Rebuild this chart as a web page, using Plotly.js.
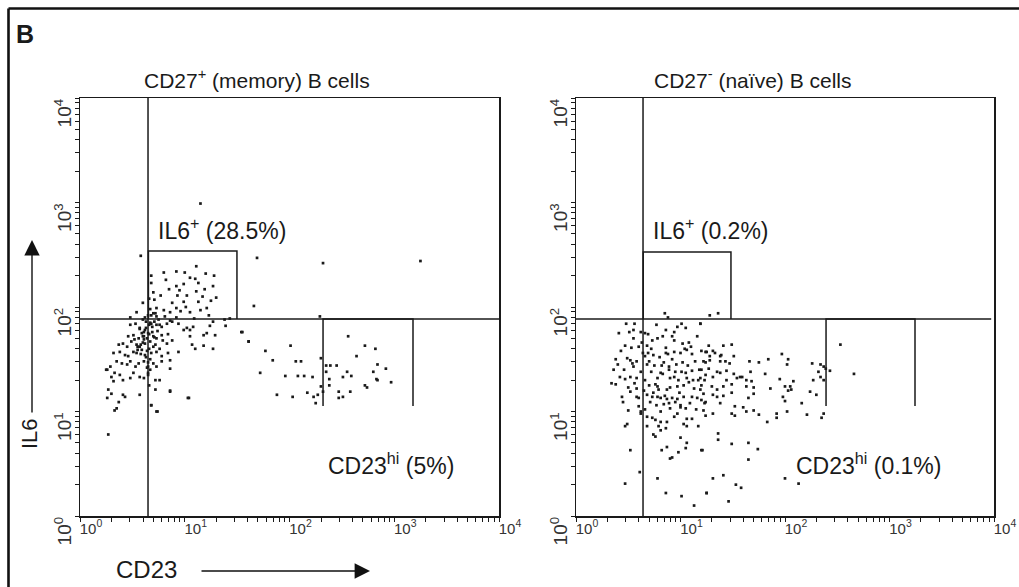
<!DOCTYPE html>
<html>
<head>
<meta charset="utf-8">
<script src="https://cdn.plot.ly/plotly-3.0.1.min.js"></script>
<style>html,body{margin:0;padding:0;background:#fff;}#chart{width:1019px;height:587px;}</style>
</head>
<body>
<div id="chart"></div>
<script>
// ---- Data (in decades: log10 of fluorescence) ----
// CD27+ (memory) B cells : events
const memLogCD23 = [
0.58,1.69,1.15,2.32,3.25,1.11,0.80,0.92,1.00,1.20,1.28,1.10,0.68,0.68,0.92,0.99,1.13,1.27,0.85,0.95,1.11,0.77,0.93,1.02,1.30,0.71,0.88,0.99,1.13,0.60,1.66,0.73,0.80,0.92,1.01,1.21,0.54,0.72,0.86,0.96,1.05,1.15,0.48,0.73,0.81,0.92,1.23,1.43,1.38,0.65,0.66,0.86,2.29,1.19,1.25,0.82,1.05,0.70,1.17,0.67,1.09,
0.48,0.53,0.57,0.61,0.68,0.73,0.78,0.83,0.88,0.94,0.99,1.02,1.05,1.08,1.24,1.27,1.39,
0.46,0.51,0.56,0.61,0.65,0.70,0.73,0.78,0.84,0.88,1.05,1.18,1.21,1.29,1.54,1.61,
0.37,0.41,0.45,0.49,0.54,0.57,0.62,0.67,0.72,0.76,0.83,0.94,1.07,1.10,1.18,1.27,
0.32,0.38,0.43,0.46,0.51,0.54,0.59,0.62,0.68,0.73,0.78,0.84,0.86,
0.26,0.29,0.35,0.40,0.45,0.48,0.53,0.56,0.61,0.65,0.70,0.73,0.78,0.86,
0.30,0.32,0.33,0.38,0.41,0.48,0.51,0.57,0.61,0.65,0.67,0.72,0.76,
0.27,0.26,0.30,0.41,0.43,0.57,0.72,0.86,1.04,
0.37,0.33,0.35,0.68,0.74,0.27,0.25,0.86,1.03,0.73,0.68,
0.62,0.64,0.66,0.63,0.60,0.69,0.67,0.64,0.66,0.65,0.59,0.55,0.70,0.74,0.52,0.58,0.63,0.66,0.71,0.60,0.68,0.75,
1.55,1.61,2.01,2.56,2.72,2.82,2.64,2.06,2.11,2.30,2.35,2.39,2.45,2.84,2.92,1.72,1.96,2.08,2.14,2.22,2.35,2.55,2.59,2.51,2.80,2.83,2.84,2.97,2.38,2.30,2.38,2.72,2.74,1.88,2.03,2.17,2.23,2.27,2.32,2.25,2.47,2.58,2.47,2.51,1.77,1.84,
0.63,0.66,0.61,0.69,0.64,0.58,0.71,0.67,0.62,0.65,0.57,0.70,0.76,0.79,0.55,0.60
];
const memLogIL6 = [
2.49,2.47,2.99,2.42,2.44,2.39,2.33,2.34,2.33,2.32,2.30,2.27,2.30,2.23,2.20,2.22,2.23,2.20,2.17,2.16,2.15,2.11,2.11,2.11,2.09,2.07,2.04,2.05,2.05,2.04,2.01,1.99,1.97,1.99,2.00,1.99,1.95,1.94,1.95,1.96,1.95,1.97,1.90,1.91,1.91,1.90,1.92,1.89,1.88,1.92,2.08,1.87,1.91,2.17,2.06,2.26,2.28,2.14,2.10,1.98,1.89,
1.83,1.84,1.80,1.76,1.84,1.83,1.81,1.84,1.86,1.84,1.78,1.80,1.78,1.81,1.82,1.86,1.82,
1.72,1.73,1.70,1.72,1.75,1.72,1.70,1.73,1.74,1.68,1.72,1.73,1.75,1.73,1.76,1.67,
1.64,1.65,1.62,1.67,1.64,1.62,1.65,1.67,1.64,1.60,1.65,1.57,1.64,1.60,1.63,1.60,
1.56,1.57,1.54,1.53,1.57,1.56,1.59,1.54,1.56,1.57,1.53,1.56,1.49,
1.40,1.43,1.48,1.46,1.45,1.48,1.43,1.46,1.48,1.43,1.46,1.43,1.48,1.41,
1.33,1.29,1.37,1.35,1.30,1.32,1.37,1.33,1.32,1.37,1.40,1.30,1.30,
1.21,1.13,1.17,1.16,1.14,1.16,1.21,1.19,1.13,
1.09,1.01,1.03,1.06,1.00,0.78,1.40,1.20,1.13,1.00,1.06,
1.78,1.70,1.60,1.52,1.66,1.76,1.50,1.42,1.25,1.35,1.75,1.62,1.62,1.77,1.69,1.55,1.86,1.83,1.86,1.88,1.92,1.88,
1.76,1.67,1.63,1.72,1.63,1.60,1.53,1.48,1.48,1.51,1.44,1.44,1.44,1.45,1.41,1.37,1.34,1.34,1.34,1.33,1.38,1.38,1.34,1.33,1.38,1.31,1.30,1.28,1.31,1.24,1.25,1.25,1.23,1.16,1.14,1.18,1.14,1.16,1.19,1.08,1.19,1.19,1.13,1.14,1.58,1.49,
1.80,1.74,1.69,1.81,1.58,1.64,1.71,1.85,1.90,1.47,1.79,1.94,1.83,1.68,1.59,1.72
];

// CD27- (naive) B cells : events
const naiLogCD23 = [
0.85,0.88,0.48,0.56,0.77,0.97,1.01,1.05,1.19,0.41,0.51,0.62,0.66,0.69,0.86,0.94,0.78,0.92,1.16,0.94,0.47,0.53,0.63,0.68,0.72,0.86,1.02,1.08,0.94,
0.38,0.49,0.52,0.54,0.58,0.69,0.66,0.74,0.86,1.00,1.04,1.06,1.11,1.24,0.46,0.55,0.68,0.82,0.89,0.96,1.24,
0.34,0.38,0.42,0.47,0.52,0.58,0.66,0.78,0.81,0.83,0.89,0.94,1.01,1.05,1.06,1.11,1.17,1.24,
0.50,0.52,0.58,0.76,0.78,0.79,0.87,0.90,0.97,1.03,1.08,1.13,1.19,
0.44,0.58,0.60,0.68,0.73,0.78,0.81,0.87,0.92,0.97,1.03,1.11,1.16,0.45,0.71,0.84,0.89,0.95,1.00,1.24,
0.50,0.62,0.81,0.90,1.05,1.00,0.62,0.68,0.73,0.76,0.81,0.87,0.97,1.06,1.11,1.24,
0.47,0.49,0.68,0.79,0.81,0.86,1.06,1.17,0.74,0.76,1.00,0.52,0.82,0.87,0.98,1.05,1.06,1.21,0.90,0.92,0.61,0.47,0.78,0.86,1.01,1.13,1.25,
0.55,0.60,0.64,0.70,0.72,0.75,0.80,0.84,0.88,0.92,0.95,0.98,1.02,1.07,1.12,1.14,1.18,1.20,0.56,0.62,0.65,0.70,0.74,0.77,0.85,0.90,0.99,1.09,1.15,0.43,0.40,0.36,0.60,0.66,0.94,1.03,0.55,0.73,0.83,1.10,
1.28,1.36,1.19,1.27,1.41,1.49,1.25,1.31,1.33,1.28,1.38,1.39,1.51,1.22,1.28,1.38,1.43,1.47,1.66,1.75,1.84,1.97,2.03,2.02,1.20,1.27,1.35,1.38,1.44,1.51,1.59,1.67,1.81,2.26,2.34,2.37,2.39,2.43,2.32,2.53,2.66,
1.19,1.23,1.31,1.44,1.54,1.57,1.63,1.68,1.95,2.08,2.34,2.37,2.27,1.20,1.30,1.35,1.41,1.49,1.63,1.70,1.86,2.00,2.05,2.03,2.06,2.24,2.30,
1.22,1.31,1.35,1.41,1.49,1.65,1.70,1.98,2.00,1.20,1.23,1.38,1.52,1.60,1.70,1.22,1.31,1.49,1.52,1.63,1.75,1.92,2.02,2.16,2.21,2.37,2.35,1.83,1.92,
1.36,1.36,1.49,1.65,1.74,1.20,1.65,1.31,1.41,1.53,1.58,2.00,2.13,1.25,1.46
];
const naiLogIL6 = [
1.94,1.90,1.84,1.84,1.83,1.81,1.84,1.80,1.84,1.75,1.76,1.76,1.75,1.74,1.78,1.76,1.70,1.72,1.72,1.68,1.63,1.61,1.66,1.63,1.60,1.61,1.65,1.66,1.57,
1.50,1.51,1.49,1.46,1.48,1.56,1.53,1.54,1.56,1.56,1.60,1.59,1.55,1.57,1.40,1.43,1.45,1.44,1.43,1.45,1.47,
1.27,1.26,1.33,1.31,1.33,1.32,1.30,1.32,1.37,1.36,1.40,1.33,1.38,1.37,1.32,1.39,1.30,1.35,
1.23,1.19,1.22,1.26,1.24,1.21,1.21,1.23,1.24,1.25,1.28,1.22,1.21,
1.14,1.14,1.13,1.16,1.14,1.14,1.13,1.12,1.13,1.12,1.14,1.14,1.13,1.09,1.09,1.07,1.08,1.09,1.06,1.09,
1.01,1.00,1.00,1.03,1.03,1.04,0.98,0.95,0.94,0.92,0.90,0.90,0.98,0.93,0.93,0.96,
0.86,0.88,0.86,0.86,0.82,0.84,0.86,0.86,0.78,0.76,0.75,0.63,0.63,0.66,0.61,0.65,0.70,0.63,0.55,0.56,0.42,0.31,0.36,0.22,0.19,0.10,0.22,
1.70,1.62,1.56,1.48,1.38,1.44,1.52,1.47,1.55,1.50,1.38,1.30,1.47,1.44,1.30,1.48,1.40,1.58,1.27,1.38,1.20,1.25,1.18,1.06,1.15,1.32,1.18,1.08,1.02,1.58,1.45,1.40,1.05,1.02,0.95,0.88,1.78,1.68,1.72,1.62,
1.92,1.94,1.84,1.63,1.63,1.64,1.57,1.58,1.56,1.53,1.53,1.54,1.53,1.48,1.49,1.48,1.48,1.46,1.48,1.47,1.50,1.55,1.50,1.45,1.40,1.41,1.38,1.37,1.39,1.36,1.33,1.38,1.36,1.46,1.45,1.43,1.41,1.39,1.38,1.64,1.36,
1.32,1.30,1.33,1.30,1.32,1.33,1.30,1.29,1.31,1.29,1.33,1.30,1.30,1.25,1.24,1.21,1.24,1.26,1.24,1.23,1.22,1.24,1.24,1.20,1.21,1.19,1.16,
1.17,1.16,1.14,1.15,1.18,1.13,1.17,1.14,1.10,1.11,1.08,1.08,1.05,1.04,1.01,1.01,0.98,0.98,0.96,1.00,0.97,0.98,1.00,1.08,0.97,0.98,0.94,0.90,0.94,
0.79,0.73,0.69,0.70,0.64,0.63,0.54,0.36,0.39,0.30,0.27,0.36,0.31,0.22,0.14
];

// Gates (data units)
const memGateCD23 = 4.46, memGateIL6 = 76.7;
const memIL6BoxX = [4.5, 31.5], memIL6BoxY = [76.7, 343];
const memCD23BoxX = [209, 1510], memCD23BoxY = [11.3, 76.7];
const naiGateCD23 = 4.38, naiGateIL6 = 76.7, naiGateEnd = 9400;
const naiIL6BoxX = [4.4, 30.4], naiIL6BoxY = [76.7, 336];
const naiCD23BoxX = [247, 1754], naiCD23BoxY = [11.3, 76.7];

// Axis ticks: decades labelled, 2..9 unlabelled
const decadeVals = [1, 10, 100, 1000, 10000];
const decadeText = ['10<sup>0</sup>','10<sup>1</sup>','10<sup>2</sup>','10<sup>3</sup>','10<sup>4</sup>'];

// Texts
const titleMem = 'CD27<sup>+</sup> (memory) B cells';
const titleNai = 'CD27<sup>-</sup> (naïve) B cells';
const gateLabels = ['IL6<sup>+</sup> (28.5%)', 'CD23<sup>hi</sup> (5%)', 'IL6<sup>+</sup> (0.2%)', 'CD23<sup>hi</sup> (0.1%)'];

// ---- Build ----
const pow10 = v => Math.pow(10, v);
const tickVals = [], tickText = [];
decadeVals.forEach((v, i) => {
  tickVals.push(v); tickText.push(decadeText[i]);
  if (i < decadeVals.length - 1) for (let k = 2; k <= 9; k++) { tickVals.push(k * v); tickText.push(''); }
});

const ink = '#1a1a1a';
const dots = (xs, ys, xa, ya) => ({
  type: 'scatter', mode: 'markers', x: xs.map(pow10), y: ys.map(pow10), xaxis: xa, yaxis: ya,
  marker: {symbol: 'square', size: 2.7, color: ink, line: {width: 0}}, hoverinfo: 'skip'
});
const line = (xs, ys, xa, ya) => ({
  type: 'scatter', mode: 'lines', x: xs, y: ys, xaxis: xa, yaxis: ya,
  line: {color: ink, width: 1.5}, hoverinfo: 'skip'
});
const box = (bx, by, xa, ya) => line([bx[0], bx[0], bx[1], bx[1]], [by[0], by[1], by[1], by[0]], xa, ya);

const traces = [
  dots(memLogCD23, memLogIL6, 'x', 'y'),
  line([memGateCD23, memGateCD23], [1, 10000], 'x', 'y'),
  line([1, 10000], [memGateIL6, memGateIL6], 'x', 'y'),
  box(memIL6BoxX, memIL6BoxY, 'x', 'y'),
  box(memCD23BoxX, memCD23BoxY, 'x', 'y'),
  dots(naiLogCD23, naiLogIL6, 'x2', 'y2'),
  line([naiGateCD23, naiGateCD23], [1, 10000], 'x2', 'y2'),
  line([1, naiGateEnd], [naiGateIL6, naiGateIL6], 'x2', 'y2'),
  box(naiIL6BoxX, naiIL6BoxY, 'x2', 'y2'),
  box(naiCD23BoxX, naiCD23BoxY, 'x2', 'y2')
];

const W = 1019, H = 587;
const px = v => v / W, py = v => 1 - v / H;
const yDom = [py(516), py(98)];

const baseAxis = {
  type: 'log', range: [0, 4], showgrid: false, zeroline: false, fixedrange: true,
  showline: true, linecolor: ink, linewidth: 1.5, mirror: true,
  ticks: 'outside', ticklen: 4, tickwidth: 1, tickcolor: ink,
  tickmode: 'array', tickvals: tickVals, ticktext: tickText
};
const xAxis = (dom, anchor) => Object.assign({}, baseAxis, {
  domain: dom, anchor: anchor,
  tickfont: {size: 15, color: '#333'}, ticklabelshift: 11, ticklabelstandoff: -6
});
const yAxis = (dom, anchor) => Object.assign({}, baseAxis, {
  domain: dom, anchor: anchor, tickangle: -90,
  tickfont: {size: 19, color: '#333'}, ticklabelshift: 18, ticklabelstandoff: -4
});

const font = 'Liberation Sans, Arial, Helvetica, sans-serif';
const ann = (text, x, y, size, extra) => Object.assign({
  text: text, xref: 'paper', yref: 'paper', x: px(x), y: py(y), showarrow: false,
  xanchor: 'left', yanchor: 'middle', font: {family: font, size: size, color: '#1a1a1a'}
}, extra || {});

const layout = {
  width: W, height: H, margin: {l: 0, r: 0, t: 0, b: 0},
  paper_bgcolor: '#fff', plot_bgcolor: '#fff', showlegend: false,
  font: {family: font, color: '#222'},
  xaxis: xAxis([px(80), px(499)], 'y'),
  yaxis: yAxis(yDom, 'x'),
  xaxis2: xAxis([px(576), px(994)], 'y2'),
  yaxis2: yAxis(yDom, 'x2'),
  shapes: [
    {type: 'line', xref: 'paper', yref: 'paper', x0: px(8.5), x1: 1, y0: py(8.5), y1: py(8.5), line: {color: '#111', width: 2.6}},
    {type: 'line', xref: 'paper', yref: 'paper', x0: px(8.5), x1: px(8.5), y0: 0, y1: py(8.5), line: {color: '#111', width: 2.6}}
  ],
  annotations: [
    ann('<b>B</b>', 14, 34, 25),
    ann(titleMem, 257, 79, 21, {xanchor: 'center'}),
    ann(titleNai, 753, 79, 21, {xanchor: 'center'}),
    ann(gateLabels[0], 156, 229, 23),
    ann(gateLabels[1], 326, 464, 23),
    ann(gateLabels[2], 651, 229, 23),
    ann(gateLabels[3], 794, 464, 23),
    ann('IL6', 29, 434, 22, {xanchor: 'center', textangle: -90}),
    ann('CD23', 114, 569, 24),
    {text: '', xref: 'paper', yref: 'paper', x: px(32), y: py(240), ax: 0, ay: 174, axref: 'pixel', ayref: 'pixel',
     showarrow: true, arrowhead: 2, arrowsize: 2.2, arrowwidth: 1.4, arrowcolor: '#111', standoff: 0, startstandoff: 0},
    {text: '', xref: 'paper', yref: 'paper', x: px(370), y: py(571), ax: -170, ay: 0, axref: 'pixel', ayref: 'pixel',
     showarrow: true, arrowhead: 2, arrowsize: 2.2, arrowwidth: 1.4, arrowcolor: '#111', standoff: 0, startstandoff: 0}
  ]
};

Plotly.newPlot('chart', traces, layout, {staticPlot: true, displayModeBar: false});
</script>
</body>
</html>
